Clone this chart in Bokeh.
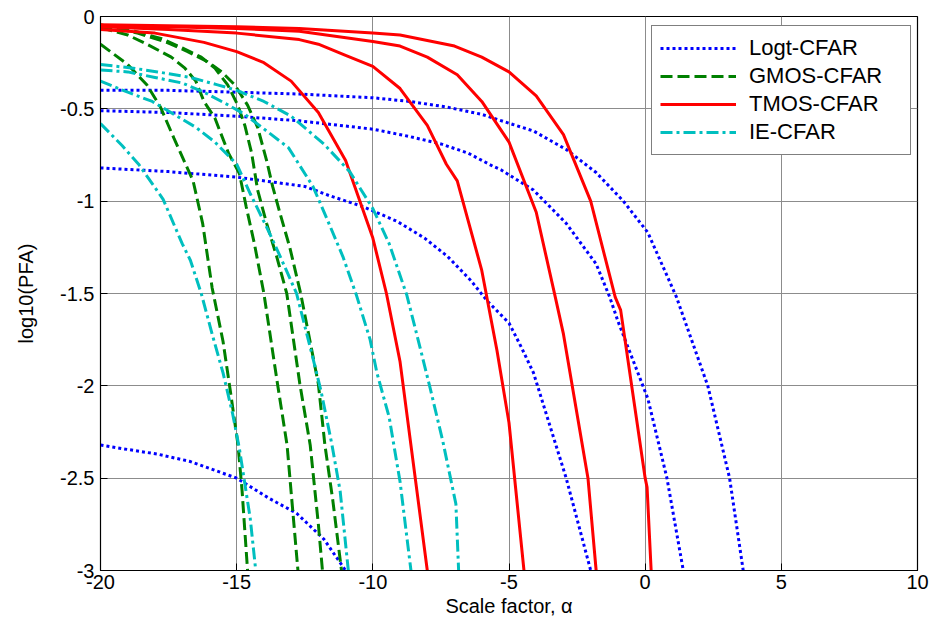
from bokeh.plotting import figure
from bokeh.models import Range1d, Legend, LegendItem, FixedTicker, CustomJSTickFormatter
from bokeh.embed import file_html
from bokeh.resources import INLINE

# ---------------- data ----------------
x_ticks = [-20, -15, -10, -5, 0, 5, 10]
y_ticks = [-3, -2.5, -2, -1.5, -1, -0.5, 0]

# Logt-CFAR (blue dotted)
logt1_x = [-20, -17.5, -15, -12.7, -10, -8.65, -7.3, -6, -4.85, -4.1, -2.9, -1.8, -0.8, 0.1, 1.15, 2.3, 3.1, 3.6]
logt1_y = [-0.40, -0.40, -0.41, -0.42, -0.44, -0.46, -0.49, -0.53, -0.585, -0.62, -0.72, -0.845, -1.0, -1.17, -1.52, -2.0, -2.5, -3.0]
logt2_x = [-20, -17.5, -15, -12.7, -10, -8.65, -7.5, -6.5, -5.6, -5.3, -4.1, -2.9, -1.8, -1.3, -1.0, 0.1, 0.8, 1.4]
logt2_y = [-0.51, -0.52, -0.54, -0.565, -0.61, -0.65, -0.69, -0.74, -0.81, -0.83, -0.94, -1.12, -1.34, -1.52, -1.65, -2.07, -2.5, -3.0]
logt3_x = [-20, -17.5, -15, -12.5, -11.6, -10.35, -9.1, -8.1, -7.25, -6.4, -5.8, -5.0, -4.55, -4.1, -2.9, -2.0]
logt3_y = [-0.82, -0.84, -0.87, -0.92, -0.97, -1.03, -1.11, -1.20, -1.30, -1.43, -1.54, -1.66, -1.79, -1.93, -2.5, -3.0]
logt4_x = [-20, -19.2, -17.9, -16.7, -15, -13.8, -12.8, -11.8, -11.0]
logt4_y = [-2.32, -2.34, -2.37, -2.41, -2.50, -2.61, -2.69, -2.83, -3.0]

# GMOS-CFAR (green dashed)
gmos1_x = [-20, -19, -18.3, -17.8, -17.3, -16.6, -16.25, -15.9, -15.5, -15.25, -14.95, -14.8, -14.6]
gmos1_y = [-0.15, -0.26, -0.37, -0.49, -0.66, -0.89, -1.12, -1.47, -1.76, -2.01, -2.32, -2.57, -3.0]
gmos2_x = [-20, -19, -18.3, -17.4, -16.9, -16.5, -16.2, -15.8, -15.3, -14.9, -14.65, -14.35, -14.0, -13.5, -13.15, -12.95, -12.75]
gmos2_y = [-0.06, -0.10, -0.15, -0.22, -0.28, -0.35, -0.46, -0.55, -0.74, -0.85, -1.03, -1.23, -1.50, -1.99, -2.32, -2.66, -3.0]
gmos3_x = [-20, -18.75, -17.75, -17.0, -16.3, -15.8, -15.33, -14.96, -14.7, -14.45, -14.23, -13.9, -13.53, -13.16, -12.68, -12.3, -12.0, -11.85]
gmos3_y = [-0.05, -0.08, -0.12, -0.17, -0.22, -0.28, -0.37, -0.48, -0.59, -0.74, -0.94, -1.12, -1.30, -1.50, -1.99, -2.32, -2.75, -3.0]
gmos4_x = [-20, -18.64, -17.65, -16.8, -16.07, -15.55, -15.07, -14.6, -14.23, -13.9, -13.68, -13.4, -13.05, -12.65, -12.0, -11.76, -11.47, -11.15]
gmos4_y = [-0.045, -0.09, -0.135, -0.19, -0.245, -0.30, -0.37, -0.48, -0.60, -0.78, -0.92, -1.07, -1.25, -1.50, -1.99, -2.32, -2.62, -3.0]

# TMOS-CFAR (red solid)
tmos1_x = [-20, -18, -16.2, -15, -14, -13, -12, -11, -10, -9.5, -9.0, -8.0]
tmos1_y = [-0.07, -0.09, -0.14, -0.19, -0.25, -0.35, -0.52, -0.78, -1.2, -1.5, -1.87, -3.0]
tmos2_x = [-20, -17.5, -15, -12.7, -12, -11, -10, -9, -8, -7.3, -6.9, -6.0, -5.44, -5.0, -4.45]
tmos2_y = [-0.055, -0.07, -0.09, -0.125, -0.15, -0.21, -0.27, -0.39, -0.59, -0.80, -0.89, -1.375, -1.81, -2.2, -3.0]
tmos3_x = [-20, -17.5, -15, -12.7, -10, -9, -8, -6.9, -6, -5, -4, -3.3, -3.0, -2.1, -1.8]
tmos3_y = [-0.05, -0.055, -0.065, -0.08, -0.135, -0.16, -0.22, -0.315, -0.46, -0.68, -1.06, -1.52, -1.72, -2.5, -3.0]
tmos4_x = [-20, -15, -12.7, -10, -9, -7, -6, -5, -4, -3, -2, -1.1, -0.9, 0.0, 0.07, 0.22]
tmos4_y = [-0.045, -0.055, -0.065, -0.09, -0.10, -0.16, -0.22, -0.30, -0.43, -0.64, -1.0, -1.52, -1.59, -2.5, -2.55, -3.0]

# IE-CFAR (cyan dash-dot)
ie1_x = [-20, -19.2, -18.6, -17.7, -17.0, -16.7, -16.3, -15.9, -15.5, -15.15, -14.9, -14.5, -14.3]
ie1_y = [-0.58, -0.70, -0.80, -0.99, -1.23, -1.32, -1.50, -1.72, -1.93, -2.15, -2.34, -2.72, -3.0]
ie2_x = [-20, -19, -18.1, -17.3, -16.5, -15.8, -15.0, -14.5, -13.9, -13.4, -12.8, -12.2, -11.9, -11.5, -11.2, -10.9]
ie2_y = [-0.35, -0.41, -0.46, -0.53, -0.60, -0.68, -0.80, -0.96, -1.14, -1.30, -1.50, -1.85, -2.03, -2.32, -2.57, -3.0]
ie3_x = [-20, -19, -18, -17, -16.2, -15.3, -14.7, -13.9, -13.1, -12.8, -12.2, -11.7, -11.1, -10.6, -10.1, -9.85, -9.4, -9.0, -8.6]
ie3_y = [-0.29, -0.30, -0.33, -0.36, -0.41, -0.48, -0.53, -0.62, -0.71, -0.78, -0.92, -1.09, -1.30, -1.51, -1.75, -1.93, -2.17, -2.52, -3.0]
ie4_x = [-20, -18.8, -17.9, -16.7, -15.7, -15, -14, -13, -11.8, -10.85, -10, -9.4, -8.75, -8.27, -7.9, -7.43, -6.95, -6.85]
ie4_y = [-0.26, -0.28, -0.30, -0.33, -0.37, -0.40, -0.46, -0.54, -0.69, -0.84, -1.04, -1.23, -1.51, -1.79, -2.01, -2.30, -2.64, -3.0]

labels = ["Logt-CFAR", "GMOS-CFAR", "TMOS-CFAR", "IE-CFAR"]

# ---------------- figure ----------------
FONT = "Liberation Sans"
p = figure(width=938, height=631, x_range=Range1d(-20, 10), y_range=Range1d(-3, 0),
           output_backend="svg", toolbar_location=None,
           min_border_left=100, min_border_right=21, min_border_top=16, min_border_bottom=61,
           background_fill_color="white", border_fill_color="white")
p.outline_line_color = "black"
p.outline_line_width = 1.2

fmt = CustomJSTickFormatter(code="return String(Math.round(tick*10)/10);")
for ax, ticks in ((p.xaxis[0], x_ticks), (p.yaxis[0], y_ticks)):
    ax.ticker = FixedTicker(ticks=ticks)
    ax.formatter = fmt
    ax.major_tick_in = 7
    ax.major_tick_out = 0
    ax.minor_tick_line_color = None
    ax.axis_line_color = "black"
    ax.major_tick_line_color = "black"
    ax.major_label_text_font = FONT
    ax.major_label_text_font_size = "20px"
    ax.major_label_text_color = "black"
    ax.axis_label_text_font = FONT
    ax.axis_label_text_font_size = "20px"
    ax.axis_label_text_font_style = "normal"
    ax.axis_label_text_color = "black"

p.xaxis.axis_label = "Scale factor, α"
p.yaxis.axis_label = "log10(PFA)"
p.xaxis.major_label_standoff = 4
p.xaxis.axis_label_standoff = 3
p.yaxis.major_label_standoff = 6
p.yaxis.axis_label_standoff = 20

p.xgrid.ticker = FixedTicker(ticks=x_ticks)
p.ygrid.ticker = FixedTicker(ticks=y_ticks)
p.grid.grid_line_color = "#8c8c8c"
p.grid.grid_line_width = 1

blue, green, red, cyan = "#0000FF", "#008000", "#FF0000", "#00BFBF"
first = {}
groups = [
    ("Logt-CFAR", [(logt1_x, logt1_y), (logt2_x, logt2_y), (logt3_x, logt3_y), (logt4_x, logt4_y)], blue, "3 3"),
    ("GMOS-CFAR", [(gmos1_x, gmos1_y), (gmos2_x, gmos2_y), (gmos3_x, gmos3_y), (gmos4_x, gmos4_y)], green, "12 5"),
    ("TMOS-CFAR", [(tmos1_x, tmos1_y), (tmos2_x, tmos2_y), (tmos3_x, tmos3_y), (tmos4_x, tmos4_y)], red, "solid"),
    ("IE-CFAR", [(ie1_x, ie1_y), (ie2_x, ie2_y), (ie3_x, ie3_y), (ie4_x, ie4_y)], cyan, "12 4 3 4"),
]
for name, curves, col, dash in groups:
    rs = []
    for xs, ys in curves:
        r = p.line(xs, ys, line_color=col, line_width=3, line_dash=dash)
        rs.append(r)
    first[name] = rs

legend = Legend(items=[LegendItem(label=n, renderers=[first[n][0]]) for n in labels],
                location=(551, 415), padding=8, spacing=0, margin=0,
                label_height=28, glyph_height=28, glyph_width=76, label_standoff=13,
                label_width=153,
                label_text_font=FONT, label_text_font_size="22px", label_text_color="black",
                border_line_color="black", border_line_width=1.5,
                background_fill_color="white", background_fill_alpha=1.0)
p.add_layout(legend, "center")

open("out.html", "w").write(file_html(p, INLINE))
